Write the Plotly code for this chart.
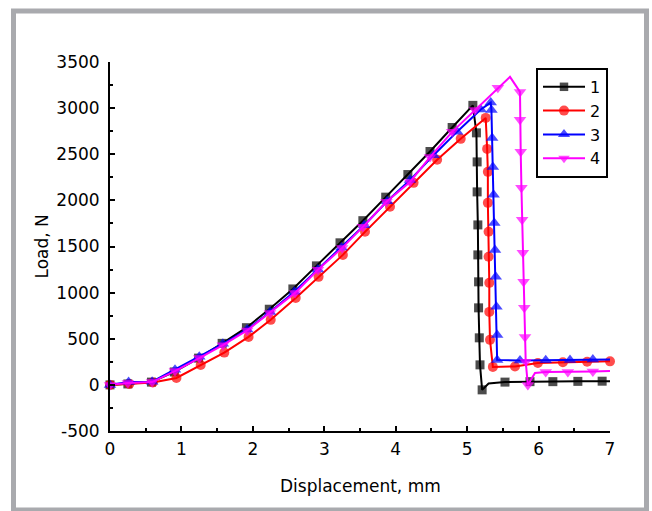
import plotly.graph_objects as go

# ---------------- data ----------------
names = ["1", "2", "3", "4"]

x1 = [0, 0.25, 0.58, 0.9, 1.24, 1.57, 1.91, 2.23, 2.56, 2.89, 3.22, 3.54, 3.86, 4.17, 4.48, 4.79, 5.08,
      5.13, 5.14, 5.14, 5.15, 5.15, 5.16, 5.16, 5.17, 5.18, 5.21, 5.3, 5.53, 5.88, 6.2, 6.55, 6.89, 7.0]
y1 = [0, 10, 30, 140, 290, 450, 620, 820, 1040, 1290, 1540, 1780, 2035, 2280, 2530, 2790, 3030,
      2732, 2417, 2092, 1734, 1409, 1117, 835, 510, 217, -54, 15, 30, 35, 35, 38, 40, 40]
s1 = [9] * 27 + [0] + [9] * 5 + [0]

x2 = [0, 0.27, 0.6, 0.93, 1.27, 1.6, 1.94, 2.25, 2.6, 2.92, 3.26, 3.57, 3.92, 4.25, 4.58, 4.91, 5.26,
      5.28, 5.29, 5.29, 5.3, 5.3, 5.31, 5.31, 5.32, 5.36, 5.67, 5.99, 6.34, 6.68, 7.0]
y2 = [0, 10, 25, 75, 215, 350, 520, 705, 943, 1171, 1409, 1659, 1930, 2190, 2440, 2667, 2894,
      2558, 2309, 1973, 1659, 1388, 1106, 791, 488, 195, 200, 238, 245, 250, 255]
s2 = [10] * len(x2)

x3 = [0, 0.26, 0.59, 0.91, 1.25, 1.58, 1.92, 2.24, 2.58, 2.91, 3.24, 3.56, 3.88, 4.2, 4.53, 4.86, 5.19,
      5.33, 5.34, 5.35, 5.36, 5.37, 5.38, 5.39, 5.4, 5.41, 5.42, 5.42, 5.74, 6.1, 6.44, 6.76, 7.0]
y3 = [0, 30, 35, 165, 305, 445, 600, 790, 1010, 1250, 1490, 1730, 1990, 2220, 2490, 2745, 2985,
      3060, 2981, 2677, 2363, 2060, 1756, 1463, 1171, 846, 542, 271, 265, 268, 270, 275, 275]
s3 = [11] * 32 + [0]

x4 = [0, 0.25, 0.59, 0.91, 1.25, 1.58, 1.92, 2.24, 2.59, 2.91, 3.25, 3.54, 3.87, 4.2, 4.48, 4.79, 5.11, 5.43,
      5.6, 5.74, 5.74, 5.75, 5.76, 5.77, 5.78, 5.79, 5.8, 5.81, 5.82, 5.85, 5.95, 6.1, 6.41, 6.76, 7.0]
y4 = [0, 20, 30, 150, 290, 430, 590, 780, 997, 1247, 1485, 1713, 1984, 2200, 2470, 2743, 2981, 3220,
      3339, 3176, 2873, 2526, 2136, 1789, 1431, 1117, 835, 520, 250, 0, 130, 140, 140, 145, 150]
s4 = [11] * 18 + [0] + [11] * 11 + [0] + [11] * 3 + [0]

xs = [x1, x2, x3, x4]
ys = [y1, y2, y3, y4]
sizes = [s1, s2, s3, s4]
colors = ["#000000", "#FF0000", "#0000FF", "#FF00FF"]
symbols = ["square", "circle", "triangle-up", "triangle-down"]

x_ticks = [0, 1, 2, 3, 4, 5, 6, 7]
x_ticktext = ["0", "1", "2", "3", "4", "5", "6", "7"]
y_ticks = [-500, 0, 500, 1000, 1500, 2000, 2500, 3000, 3500]
y_ticktext = ["-500", "0", "500", "1000", "1500", "2000", "2500", "3000", "3500"]

x_title = "Displacement, mm"
y_title = "Load, N"

FONT = "DejaVu Sans, sans-serif"
FS = 17

fig = go.Figure()
for n, x, y, s, c, sym in zip(names, xs, ys, sizes, colors, symbols):
    fig.add_trace(go.Scatter(
        x=x, y=y, name=n, mode="lines+markers",
        line=dict(color=c, width=2),
        marker=dict(symbol=sym, size=s, color=c, line=dict(width=0)),
        cliponaxis=False,
    ))

axis_common = dict(
    showline=True, linecolor="black", linewidth=2, mirror=False,
    showgrid=False, zeroline=False,
    ticks="inside", ticklen=5, tickwidth=2, tickcolor="black",
    tickfont=dict(family=FONT, size=FS, color="black"),
)

fig.update_xaxes(range=[0, 7], tickvals=x_ticks, ticktext=x_ticktext, ticklabelstandoff=2,
                 minor=dict(ticks="inside", ticklen=3, tickwidth=2, tickcolor="black", dtick=0.5),
                 **axis_common)
fig.update_yaxes(range=[-500, 3500], tickvals=y_ticks, ticktext=y_ticktext, ticklabelstandoff=5,
                 minor=dict(ticks="inside", ticklen=3, tickwidth=2, tickcolor="black", dtick=250),
                 **axis_common)

fig.update_layout(
    width=652, height=511,
    margin=dict(l=110, r=42, t=62, b=80),
    paper_bgcolor="white", plot_bgcolor="white",
    font=dict(family=FONT, size=FS, color="black"),
    showlegend=True,
    legend=dict(
        x=0.996, xanchor="right", y=0.984, yanchor="top",
        bordercolor="black", borderwidth=2, bgcolor="white",
        font=dict(family=FONT, size=16, color="black"),
        tracegroupgap=0, itemwidth=42,
    ),
    shapes=[dict(type="rect", xref="paper", yref="paper",
                 x0=-0.193, x1=1.073, y0=-0.2141, y1=1.1382,
                 line=dict(color="#A9AAAE", width=5), layer="below")],
    annotations=[
        dict(text=x_title, xref="paper", yref="paper", x=0.5, y=-0.149,
             xanchor="center", yanchor="middle", showarrow=False,
             font=dict(family=FONT, size=FS, color="black")),
        dict(text=y_title, xref="paper", yref="paper", x=-0.138, y=0.5,
             xanchor="center", yanchor="middle", showarrow=False, textangle=-90,
             font=dict(family=FONT, size=FS, color="black")),
    ],
)

fig.write_html("out.html")
